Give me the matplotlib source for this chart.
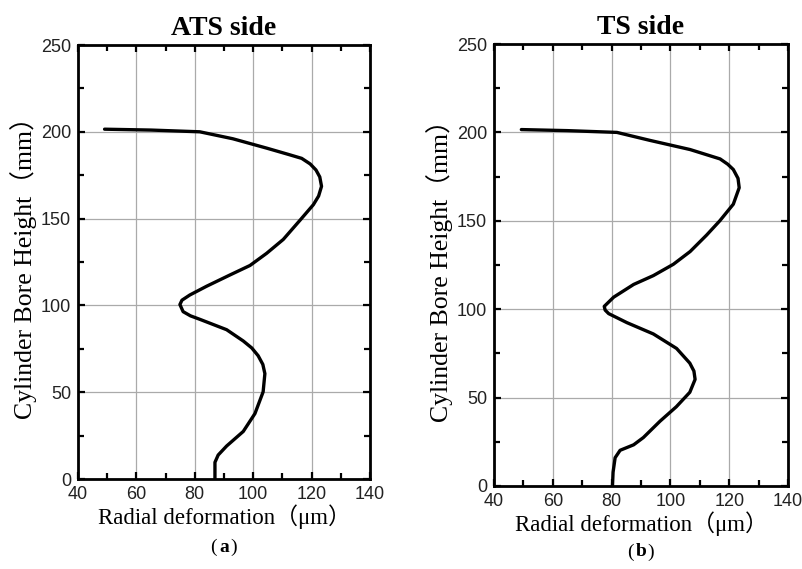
import matplotlib
matplotlib.use("Agg")
import matplotlib.pyplot as plt
from matplotlib.ticker import MultipleLocator

# ATS side (a)
ats_x = [49.1, 65.0, 81.7, 93.0, 104.6, 112.0, 116.6, 119.5, 121.5, 122.8, 123.4, 122.4, 120.6, 116.0,
         110.3, 104.6, 98.9, 92.0, 84.0, 78.3, 75.6, 74.9, 76.0, 78.5, 81.7, 90.9, 96.6,
         99.5, 101.7, 103.3, 104.0, 103.4, 100.6, 96.6, 90.9, 88.0, 86.9, 86.9]
ats_y = [201.5, 201.0, 200.0, 196.0, 190.6, 187.0, 184.7, 181.5, 178.0, 174.0, 168.6, 163.0, 158.0, 149.0,
         138.0, 130.0, 123.0, 117.5, 111.0, 106.0, 103.0, 100.5, 96.4, 94.0, 92.0, 86.0, 79.5,
         75.5, 71.0, 66.0, 60.7, 50.2, 37.7, 27.4, 19.0, 13.8, 9.6, 0.0]

# TS side (b)
ts_x = [49.3, 65.0, 81.8, 93.0, 106.7, 116.9, 119.5, 121.4, 123.0, 123.4, 121.4, 116.8, 112.3,
        106.7, 101.0, 94.2, 87.5, 80.7, 77.5, 77.8, 79.0, 85.2, 94.2, 102.1, 106.6,
        108.0, 108.4, 106.6, 102.0, 96.5, 90.8, 87.5, 82.9, 81.2, 80.5, 80.3]
ts_y = [201.6, 201.0, 200.0, 195.5, 190.3, 185.0, 182.0, 179.0, 174.0, 168.7, 159.4, 150.0, 141.9,
        132.6, 125.4, 119.0, 114.0, 106.8, 101.6, 99.5, 97.5, 92.4, 86.0, 77.8, 69.5,
        65.0, 60.3, 53.0, 44.8, 36.7, 27.4, 23.3, 20.2, 16.0, 7.8, 0.0]

titles = ["ATS side", "TS side"]
panel_tags = ["a", "b"]
xlabel = "Radial deformation\uff08\u03bcm\uff09"
ylabel = "Cylinder Bore Height\uff08mm\uff09"

serif = ["Liberation Serif", "Noto Sans CJK SC", "DejaVu Serif"]
sans = ["Liberation Sans", "DejaVu Sans"]

fig = plt.figure(figsize=(8.03, 5.69), dpi=100)
W, H = 803, 569
boxes = [(78, 370, 45, 479), (494, 788, 44, 486)]
tag_rows = [547, 552]
series = [(ats_x, ats_y), (ts_x, ts_y)]

for i, (l, r, t, b) in enumerate(boxes):
    ax = fig.add_axes([l / W, 1 - b / H, (r - l) / W, (b - t) / H])
    x, y = series[i]
    ax.plot(x, y, color="black", lw=2.4, solid_capstyle="round", solid_joinstyle="round")
    ax.set_xlim(40, 140)
    ax.set_ylim(0, 250)
    ax.xaxis.set_major_locator(MultipleLocator(20))
    ax.xaxis.set_minor_locator(MultipleLocator(10))
    ax.yaxis.set_major_locator(MultipleLocator(50))
    ax.yaxis.set_minor_locator(MultipleLocator(25))
    ax.grid(True, which="major", color="#aaaaaa", lw=0.9)
    ax.set_axisbelow(True)
    ax.tick_params(which="both", direction="in", top=True, right=True, width=1.6,
                   labelsize=13, pad=5)
    ax.tick_params(which="major", length=5)
    ax.tick_params(which="minor", length=4)
    for lab in ax.get_xticklabels() + ax.get_yticklabels():
        lab.set_family(sans)
        lab.set_color("#222222")
    for s in ax.spines.values():
        s.set_linewidth(2.0)
    ax.set_xlabel(xlabel, family=serif, fontsize=16.5, labelpad=1)
    ax.set_ylabel(ylabel, family=serif, fontsize=18.5, labelpad=3)
    ax.set_title(titles[i], family=serif, fontsize=20, fontweight="bold", pad=7)
    cx = (l + r) / 2 / W
    ty = 1 - tag_rows[i] / H
    fig.text(cx - 0.013, ty, "(", family=serif, fontsize=14, ha="center", va="center")
    fig.text(cx, ty, panel_tags[i], family=serif, fontsize=14, fontweight="bold",
             ha="center", va="center")
    fig.text(cx + 0.012, ty, ")", family=serif, fontsize=14, ha="center", va="center")

fig.savefig("out.png", dpi=100, facecolor="white")
